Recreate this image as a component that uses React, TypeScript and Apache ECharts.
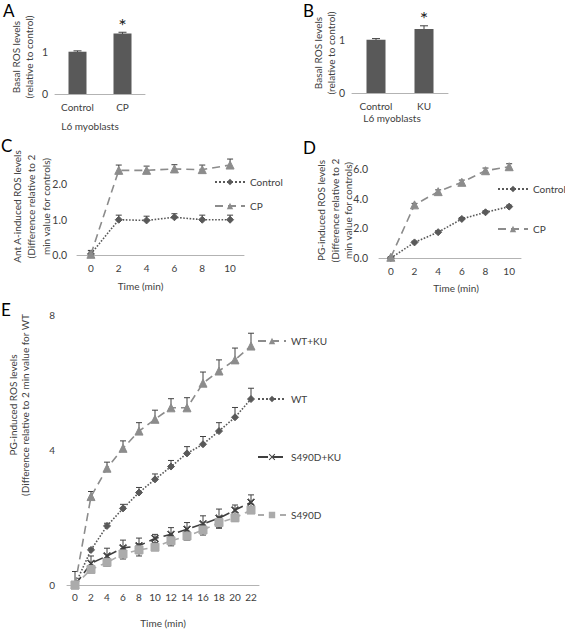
import React, { useEffect, useRef } from "react";
import * as echarts from "echarts";

// ---------- data ----------
const barCatsA = ["Control", "CP"];
const barValsA = [1.0, 1.43];
const barErrA = [0.02, 0.03];
const starA = ["", "*"];
const barCatsB = ["Control", "KU"];
const barValsB = [1.0, 1.2];
const barErrB = [0.02, 0.06];
const starB = ["", "*"];

const timeCD = ["0", "2", "4", "6", "8", "10"];
const cControl = [0.03, 1.0, 0.98, 1.07, 1.0, 1.0];
const cControlErr = [0.1, 0.13, 0.12, 0.1, 0.13, 0.13];
const cCP = [0.02, 2.4, 2.4, 2.44, 2.42, 2.55];
const cCPErr = [0.1, 0.15, 0.12, 0.12, 0.13, 0.17];
const dControl = [0.0, 1.05, 1.74, 2.63, 3.08, 3.46];
const dControlErr = [0.05, 0.08, 0.1, 0.1, 0.1, 0.1];
const dCP = [0.05, 3.58, 4.47, 5.1, 5.88, 6.15];
const dCPErr = [0.05, 0.1, 0.12, 0.15, 0.18, 0.2];

const timeE = ["0", "2", "4", "6", "8", "10", "12", "14", "16", "18", "20", "22"];
const eWTKU = [0, 2.62, 3.46, 4.05, 4.56, 4.91, 5.25, 5.25, 5.98, 6.34, 6.67, 7.08];
const eWTKUErr = [0.4, 0.15, 0.18, 0.22, 0.25, 0.27, 0.27, 0.3, 0.33, 0.33, 0.35, 0.38];
const eWT = [0, 1.04, 1.75, 2.27, 2.74, 3.13, 3.51, 3.9, 4.17, 4.56, 4.97, 5.51];
const eWTErr = [0, 0.05, 0.08, 0.12, 0.15, 0.16, 0.18, 0.2, 0.23, 0.25, 0.29, 0.32];
const eS490DKU = [0, 0.64, 0.86, 1.1, 1.16, 1.38, 1.5, 1.65, 1.81, 1.98, 2.22, 2.45];
const eS490DKUErr = [0, 0.22, 0.23, 0.23, 0.23, 0.12, 0.2, 0.2, 0.24, 0.27, 0.15, 0.22];
const eS490D = [0, 0.46, 0.67, 0.92, 1.04, 1.12, 1.31, 1.45, 1.63, 1.85, 1.99, 2.22];
const eS490DErr = [0, 0.1, 0.12, 0.15, 0.18, 0.1, 0.15, 0.12, 0.15, 0.17, 0.1, 0.1];

// ---------- styles ----------
const FONT = "Lato, 'Open Sans', sans-serif";
const TXT = "#404040";
const AXIS = "#b3b3b3";
const DARK = "#595959";
const MID = "#8c8c8c";
const XMARK = "path://M0,1L1,0L5,4L9,0L10,1L6,5L10,9L9,10L5,6L1,10L0,9L4,5Z";

function errSeries(idx: number, vals: number[], errs: number[], both: boolean, cap: number) {
  return {
    type: "custom",
    xAxisIndex: idx,
    yAxisIndex: idx,
    silent: true,
    clip: false,
    z: 1,
    encode: { x: 0, y: 1 },
    data: vals.map((v, i) => [i, v, both ? errs[i] : 0, errs[i]]),
    renderItem: (params: any, api: any) => {
      const x = api.value(0);
      const y = api.value(1);
      const lo = api.value(2);
      const hi = api.value(3);
      if (!hi && !lo) return null;
      const top = api.coord([x, y + hi]);
      const bot = api.coord([x, y - lo]);
      const style = { stroke: "#404040", lineWidth: 1 };
      const children: any[] = [
        { type: "line", shape: { x1: top[0], y1: top[1], x2: bot[0], y2: bot[1] }, style },
      ];
      if (hi > 0)
        children.push({ type: "line", shape: { x1: top[0] - cap, y1: top[1], x2: top[0] + cap, y2: top[1] }, style });
      if (lo > 0)
        children.push({ type: "line", shape: { x1: bot[0] - cap, y1: bot[1], x2: bot[0] + cap, y2: bot[1] }, style });
      return { type: "group", children };
    },
  };
}

function starSeries(idx: number, vals: number[], errs: number[], stars: string[]) {
  return {
    type: "custom",
    xAxisIndex: idx,
    yAxisIndex: idx,
    silent: true,
    clip: false,
    z: 5,
    encode: { x: 0, y: 1 },
    data: vals.map((v, i) => [i, v + errs[i]]),
    renderItem: (params: any, api: any) => {
      const s = stars[params.dataIndex];
      if (!s) return null;
      const p = api.coord([api.value(0), api.value(1)]);
      return {
        type: "text",
        x: p[0],
        y: p[1] + 2.5,
        style: {
          text: s,
          align: "center",
          verticalAlign: "bottom",
          fontSize: 20,
          fontFamily: FONT,
          fill: "#222",
        },
      };
    },
  };
}

const axisBase = {
  axisLine: { onZero: false, lineStyle: { color: AXIS, width: 1 } },
  axisTick: { show: false },
  splitLine: { show: false },
  nameMoveOverlap: false,
};
const labelStyle = { color: TXT, fontSize: 10, fontFamily: FONT, inside: false };
const nameStyle = { color: TXT, fontSize: 10, fontFamily: FONT, fontWeight: 400 };

function lineSeries(name: string, idx: number, data: number[], color: string, symbol: string, size: number, type: any) {
  return {
    type: "line",
    name,
    xAxisIndex: idx,
    yAxisIndex: idx,
    data,
    symbol,
    symbolSize: size,
    z: 3,
    itemStyle: { color, borderColor: color },
    lineStyle: { color, width: 1.6, type },
  };
}

export default function App() {
  const ref = useRef<HTMLDivElement>(null);
  useEffect(() => {
    if (!ref.current) return;
    const chart = echarts.init(ref.current, null, { renderer: "svg" });
    const fmtInt = (v: number) => (Number.isInteger(v) ? String(v) : "");
    const fmt1 = (v: number) => (Number.isInteger(v) ? v.toFixed(1) : "");
    const option: any = {
      animation: false,
      backgroundColor: "#ffffff",
      textStyle: { fontFamily: FONT },
      title: [
        { text: "A", left: 3, top: 2 },
        { text: "B", left: 303, top: 2 },
        { text: "C", left: 1, top: 137 },
        { text: "D", left: 303, top: 139 },
        { text: "E", left: 1, top: 301 },
      ].map((t) => ({ ...t, padding: 0, textStyle: { fontSize: 17, fontWeight: "normal", color: "#000", fontFamily: FONT } })),
      grid: [
        { left: 55, top: 20, width: 90, height: 74 },
        { left: 352, top: 13, width: 96, height: 80 },
        { left: 77, top: 158, width: 167, height: 97 },
        { left: 379, top: 163, width: 142, height: 95 },
        { left: 67, top: 315, width: 192, height: 270 },
      ].map((g) => ({ ...g, containLabel: false, outerBoundsMode: "none" })),
      graphic: [
        {
          type: "text",
          x: 19,
          y: 405,
          rotation: Math.PI / 2,
          style: {
            text: "PG-induced ROS levels\n(Difference relative to 2 min value for WT",
            align: "center",
            verticalAlign: "middle",
            fontSize: 10,
            lineHeight: 12,
            fontFamily: FONT,
            fill: TXT,
          },
        },
      ],
      xAxis: [
        {
          gridIndex: 0, type: "category", data: barCatsA, ...axisBase,
          axisLabel: { ...labelStyle, margin: 8 },
          name: "L6 myoblasts", nameLocation: "middle", nameGap: 27,
          nameTextStyle: { ...nameStyle, padding: [0, 20, 0, 0] },
        },
        {
          gridIndex: 1, type: "category", data: barCatsB, ...axisBase,
          axisLabel: { ...labelStyle, margin: 8 },
          name: "L6 myoblasts", nameLocation: "middle", nameGap: 20,
          nameTextStyle: { ...nameStyle, padding: [0, 16, 0, 0] },
        },
        {
          gridIndex: 2, type: "category", data: timeCD, ...axisBase,
          axisLabel: { ...labelStyle, margin: 8 },
          name: "Time (min)", nameLocation: "middle", nameGap: 26,
          nameTextStyle: { ...nameStyle, padding: [0, 40, 0, 0] },
        },
        {
          gridIndex: 3, type: "category", data: timeCD, ...axisBase,
          axisLabel: { ...labelStyle, margin: 8 },
          name: "Time (min)", nameLocation: "middle", nameGap: 25,
          nameTextStyle: { ...nameStyle, padding: [0, 0, 0, 12] },
        },
        {
          gridIndex: 4, type: "category", data: timeE, ...axisBase,
          axisLabel: { ...labelStyle, margin: 7 },
          name: "Time (min)", nameLocation: "middle", nameGap: 33,
          nameTextStyle: { ...nameStyle },
        },
      ],
      yAxis: [
        {
          gridIndex: 0, type: "value", min: 0, max: 1.75, interval: 1, ...axisBase,
          axisLabel: { ...labelStyle, fontSize: 10.5, margin: 7, formatter: fmtInt, showMaxLabel: false },
          name: "Basal ROS levels\n(relative to control)", nameLocation: "middle", nameGap: 20, nameRotate: 90,
          nameTextStyle: { ...nameStyle, lineHeight: 12.5 },
        },
        {
          gridIndex: 1, type: "value", min: 0, max: 1.5, interval: 1, ...axisBase,
          axisLabel: { ...labelStyle, fontSize: 10.5, margin: 7, formatter: fmtInt, showMaxLabel: false },
          name: "Basal ROS levels\n(relative to control)", nameLocation: "middle", nameGap: 15, nameRotate: 90,
          nameTextStyle: { ...nameStyle, lineHeight: 13 },
        },
        {
          gridIndex: 2, type: "value", min: 0, max: 2.75, interval: 1, ...axisBase,
          axisLabel: { ...labelStyle, fontSize: 10.5, margin: 10, formatter: fmt1, showMaxLabel: false },
          name: "Ant A-induced ROS levels\n(Difference relative to 2\nmin value for controls)",
          nameLocation: "middle", nameGap: 24, nameRotate: 90,
          nameTextStyle: { ...nameStyle, lineHeight: 14.5 },
        },
        {
          gridIndex: 3, type: "value", min: 0, max: 6.4, interval: 2, ...axisBase,
          axisLabel: { ...labelStyle, fontSize: 10.5, margin: 11, formatter: fmt1, showMaxLabel: false },
          name: "PG-induced ROS levels\n(Difference relative to 2\nmin value for controls)",
          nameLocation: "middle", nameGap: 24, nameRotate: 90,
          nameTextStyle: { ...nameStyle, lineHeight: 13.5 },
        },
        {
          gridIndex: 4, type: "value", min: 0, max: 8, interval: 4, position: "left", offset: 0, ...axisBase,
          axisLabel: { ...labelStyle, margin: 12, formatter: fmtInt },
        },
      ],
      legend: [
        {
          data: ["Control", "CP"].map((n) => ({ name: n })), orient: "vertical", left: 214, top: 177,
          itemWidth: 30, itemHeight: 8, itemGap: 14, padding: 0, selectedMode: false,
          textStyle: { color: TXT, fontSize: 10, fontFamily: FONT },
        },
        {
          data: ["Control", "CP"].map((n) => ({ name: n })), orient: "vertical", left: 497, top: 184,
          itemWidth: 30, itemHeight: 8, itemGap: 30, padding: 0, selectedMode: false,
          textStyle: { color: TXT, fontSize: 10, fontFamily: FONT },
        },
        {
          data: ["WT+KU", "WT", "S490D+KU", "S490D"].map((n) => ({ name: n })), orient: "vertical", left: 257, top: 336,
          itemWidth: 28, itemHeight: 8, itemGap: 48, padding: 0, selectedMode: false,
          textStyle: { color: TXT, fontSize: 10, fontFamily: FONT },
        },
      ],
      series: [
        {
          type: "bar", name: "A", xAxisIndex: 0, yAxisIndex: 0, barWidth: 18, silent: true,
          emphasis: { disabled: true }, itemStyle: { color: DARK }, data: barValsA,
        },
        errSeries(0, barValsA, barErrA, true, 4),
        starSeries(0, barValsA, barErrA, starA),
        {
          type: "bar", name: "B", xAxisIndex: 1, yAxisIndex: 1, barWidth: 19, silent: true,
          emphasis: { disabled: true }, itemStyle: { color: DARK }, data: barValsB,
        },
        errSeries(1, barValsB, barErrB, true, 4),
        starSeries(1, barValsB, barErrB, starB),
        lineSeries("Control", 2, cControl, DARK, "diamond", 7, "dotted"),
        lineSeries("CP", 2, cCP, MID, "triangle", 8, [8, 5]),
        errSeries(2, cControl, cControlErr, false, 3),
        errSeries(2, cCP, cCPErr, false, 3),
        lineSeries("Control", 3, dControl, DARK, "diamond", 7, "dotted"),
        lineSeries("CP", 3, dCP, MID, "triangle", 8, [8, 5]),
        errSeries(3, dControl, dControlErr, false, 3),
        errSeries(3, dCP, dCPErr, false, 3),
        lineSeries("WT+KU", 4, eWTKU, MID, "triangle", 8, [8, 5]),
        lineSeries("WT", 4, eWT, DARK, "diamond", 7, "dotted"),
        lineSeries("S490D+KU", 4, eS490DKU, "#404040", XMARK, 7, [10, 5]),
        lineSeries("S490D", 4, eS490D, "#ababab", "rect", 8, [6, 5]),
        errSeries(4, eWTKU, eWTKUErr, false, 3),
        errSeries(4, eWT, eWTErr, false, 3),
        errSeries(4, eS490DKU, eS490DKUErr, true, 3),
        errSeries(4, eS490D, eS490DErr, true, 3),
      ],
    };
    chart.setOption(option);
    return () => chart.dispose();
  }, []);
  return <div ref={ref} style={{ position: "absolute", left: 0, top: 0, width: 565, height: 630 }} />;
}
